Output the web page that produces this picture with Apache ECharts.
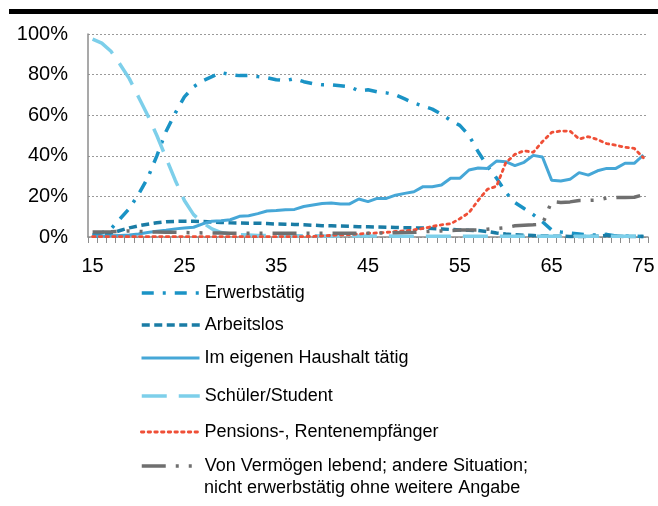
<!DOCTYPE html>
<html>
<head>
<meta charset="utf-8">
<script src="https://cdn.jsdelivr.net/npm/echarts@6/dist/echarts.min.js"></script>
<style>html,body{margin:0;padding:0;background:#fff}#c{width:658px;height:506px}</style>
</head>
<body>
<div id="c"></div>
<script>
var ages = [];
for (var a = 15; a <= 75; a++) ages.push(String(a));

var names = ['Erwerbstätig', 'Arbeitslos', 'Im eigenen Haushalt tätig', 'Schüler/Student', 'Pensions-, Rentenempfänger', 'Von Vermögen lebend; andere Situation; nicht erwerbstätig ohne weitere Angabe'];
var lastLegendLines = ['Von Vermögen lebend; andere Situation;', 'nicht erwerbstätig ohne weitere Angabe'];

var erwerbstaetig = [1, 2, 4, 9, 14, 21, 29, 40, 52, 61, 69, 74, 77, 79, 81, 80, 79.5, 79.5, 79, 78.5, 77.5, 77, 78, 76.5, 75.5, 75, 75, 74.5, 74, 72, 72.5, 71.5, 71, 70, 68, 66, 64.5, 63, 60.5, 57.5, 55, 50, 42, 35, 29, 22, 17, 14, 11, 7.5, 3.5, 2.5, 2, 1.5, 1, 1, 1.3, 0.5, 0.5, 0.5, 0.3];

var arbeitslos = [0.5, 0.8, 1.8, 3.2, 4.5, 5.5, 6.3, 7, 7.5, 7.7, 7.8, 7.8, 7.6, 7.4, 7.2, 7, 6.9, 6.8, 6.8, 6.6, 6.4, 6.3, 6.2, 6, 5.8, 5.6, 5.5, 5.4, 5.3, 5.1, 5, 4.9, 4.8, 4.7, 4.6, 4.5, 4.4, 4.2, 4, 3.7, 3.5, 3.3, 3.2, 2.7, 2, 1.5, 1.1, 0.9, 0.7, 0.5, 0.4, 0.4, 0.3, 0.3, 0.3, 0.4, 0.8, 0.5, 0.2, 0.2, 0.2];

var haushalt = [0.5, 0.5, 0.6, 0.8, 1, 1.5, 2.2, 2.8, 3.3, 4, 4.4, 4.8, 6.5, 7.8, 8, 8.5, 10.2, 10.5, 11.5, 12.8, 13, 13.4, 13.6, 15, 15.8, 16.5, 16.8, 16.3, 16.3, 18.7, 17.4, 19, 19, 20.6, 21.5, 22.3, 24.8, 24.8, 25.6, 28.9, 28.9, 33, 34, 33.8, 37.4, 37.1, 35.2, 36.8, 40.2, 39.4, 28, 27.6, 28.4, 31.7, 30.5, 32.6, 33.8, 33.8, 36.3, 36.3, 40.4];

var schueler = [97.5, 95.5, 91.5, 85, 78, 69, 60, 50, 39, 28, 18, 11, 7, 4, 2.2, 1.5, 1.2, 1, 0.8, 0.7, 0.6, 0.6, 0.6, 0.6, 0.6, 0.5, 0.5, 0.5, 0.5, 0.5, 0.5, 0.5, 0.5, 0.4, 0.4, 0.4, 0.4, 0.4, 0.4, 0.4, 0.4, 0.4, 0.4, 0.4, 0.4, 0.4, 0.4, 0.4, 0.4, 0.4, 0.4, 0.4, 0.4, 0.4, 0.4, 0.4, 0.4, 0.4, 0.4, 0.4, 0.4];

var pension = [0.2, 0.2, 0.2, 0.2, 0.2, 0.2, 0.2, 0.2, 0.2, 0.2, 0.2, 0.2, 0.2, 0.2, 0.2, 0.2, 0.2, 0.2, 0.2, 0.2, 0.2, 0.2, 0.2, 0.2, 0.3, 0.5, 0.8, 1, 1.2, 1.5, 1.8, 2, 2.3, 2.7, 3, 3.5, 4.2, 5.2, 6, 6.5, 9, 12, 18, 23.5, 25, 36.5, 40.7, 42.5, 41.7, 47, 51.5, 52.2, 52.2, 48.3, 49.4, 48, 46, 45.2, 44.2, 43.7, 39];

var vermoegen = [2.5, 2.5, 2.6, 2.8, 3, 2.8, 2.5, 2.5, 2.4, 2.3, 2.2, 2.1, 2, 2, 2, 1.9, 1.9, 1.8, 1.8, 1.8, 1.8, 1.8, 1.8, 1.8, 1.8, 1.8, 1.8, 1.8, 1.8, 1.9, 1.9, 2, 2, 2.1, 2.2, 2.3, 2.6, 2.8, 3, 3.2, 3.4, 3.4, 3.5, 3.8, 4.2, 4.6, 5.5, 5.8, 6, 6.3, 17.5, 17, 17.3, 18, 18, 18.2, 19.2, 19.4, 19.4, 19.6, 20.8];

var yTicks = [0, 20, 40, 60, 80, 100];

var FONT = "'Liberation Sans', Arial, sans-serif";
var colors = ['#1a93c5', '#1a7ca5', '#46a7d7', '#7dcfea', '#ef4f37', '#6f6f6f'];
var dashes = [[12, 9, 3, 9], [8, 4.5], 'solid', [25, 12], [2.5, 4.2], [24, 10, 3, 10, 3, 10]];
var widths = [3.5, 3.5, 3, 3.5, 2.8, 3.5];
var values = [erwerbstaetig, arbeitslos, haushalt, schueler, pension, vermoegen];

var series = names.map(function (n, i) {
  return {
    name: n,
    type: 'line',
    data: values[i],
    symbol: 'none',
    showSymbol: false,
    smooth: false,
    animation: false,
    lineStyle: { color: colors[i], width: widths[i], type: dashes[i], cap: (i === 4 ? 'round' : 'butt') },
    itemStyle: { color: colors[i] }
  };
});

var legendTops = [282, 314, 347, 385, 421, 455];
var legends = names.map(function (n, i) {
  var l = {
    data: [n],
    orient: 'vertical',
    left: 140,
    top: legendTops[i],
    padding: 0,
    itemWidth: 58,
    itemHeight: 14,
    selectedMode: false,
    itemStyle: { opacity: 0 },
    lineStyle: { color: colors[i], width: widths[i], type: dashes[i], cap: (i === 4 ? 'round' : 'butt') },
    textStyle: { fontSize: 18, fontFamily: FONT, color: '#000', lineHeight: 22 }
  };
  if (i === 5) {
    l.formatter = function () { return lastLegendLines[0]; };
  }
  return l;
});

var chart = echarts.init(document.getElementById('c'), null, { renderer: 'canvas' });
chart.setOption({
  animation: false,
  backgroundColor: '#fff',
  grid: { left: 88, right: 10, top: 34, bottom: 269, containLabel: false },
  graphic: [
    { type: 'rect', shape: { x: 9, y: 9, width: 649, height: 5 }, style: { fill: '#000' } },
    { type: 'text', left: 204, top: 479, style: { text: lastLegendLines[1], font: '18px ' + FONT, fill: '#000' } }
  ],
  legend: legends,
  xAxis: {
    type: 'category',
    data: ages,
    boundaryGap: true,
    axisLine: { lineStyle: { color: '#8c8c8c', width: 1.5 } },
    axisTick: { show: true, interval: 0, length: 6, lineStyle: { color: '#8c8c8c', width: 1 } },
    axisLabel: { interval: 9, fontSize: 20, fontFamily: FONT, color: '#000', margin: 19 },
    splitLine: { show: false }
  },
  yAxis: {
    type: 'value',
    min: yTicks[0],
    max: yTicks[yTicks.length - 1],
    interval: 20,
    axisLine: { show: true, lineStyle: { color: '#8c8c8c', width: 1.5 } },
    axisTick: { show: false },
    axisLabel: { formatter: '{value}%', fontSize: 20, fontFamily: FONT, color: '#000', margin: 20 },
    splitLine: { show: true, lineStyle: { color: '#9a9a9a', width: 1, type: [2, 2] } }
  },
  series: series
});
</script>
</body>
</html>
